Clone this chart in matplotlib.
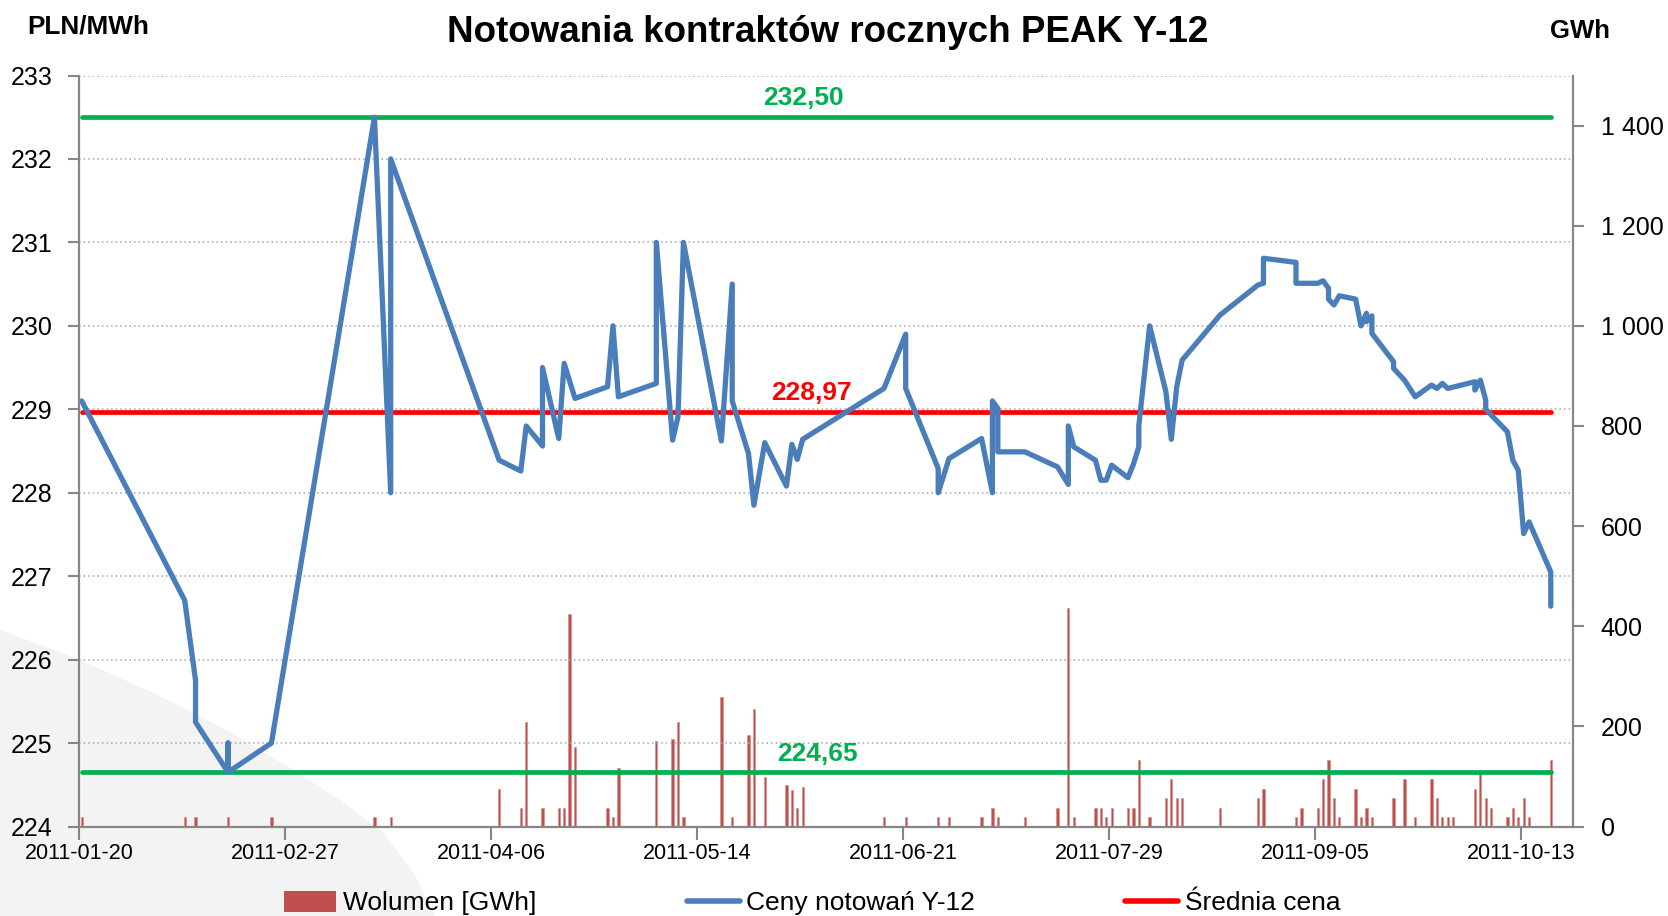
import matplotlib
matplotlib.use("Agg")
import matplotlib.pyplot as plt
from matplotlib.dates import DateFormatter
from matplotlib.lines import Line2D
from matplotlib.patches import Patch, Polygon
from matplotlib.ticker import FuncFormatter
import pandas as pd

plt.rcParams["font.family"] = ["Liberation Sans", "DejaVu Sans"]

TITLE = "Notowania kontraktów rocznych PEAK Y-12"

# daily quotes of the Y-12 peak contract (PLN/MWh); repeated dates = intraday moves
price_dates = [
    "2011-01-20", "2011-02-08", "2011-02-10", "2011-02-10", "2011-02-16", "2011-02-16",
    "2011-02-16", "2011-02-24", "2011-03-15", "2011-03-18", "2011-03-18", "2011-04-07",
    "2011-04-11", "2011-04-12", "2011-04-15", "2011-04-15", "2011-04-18", "2011-04-19",
    "2011-04-21", "2011-04-27", "2011-04-28", "2011-04-29", "2011-05-06", "2011-05-06",
    "2011-05-09", "2011-05-10", "2011-05-11", "2011-05-18", "2011-05-20", "2011-05-20",
    "2011-05-23", "2011-05-24", "2011-05-26", "2011-05-30", "2011-05-31", "2011-06-01",
    "2011-06-02", "2011-06-17", "2011-06-21", "2011-06-21", "2011-06-27", "2011-06-27",
    "2011-06-29", "2011-07-05", "2011-07-07", "2011-07-07", "2011-07-08", "2011-07-08",
    "2011-07-13", "2011-07-19", "2011-07-21", "2011-07-21", "2011-07-22", "2011-07-26",
    "2011-07-27", "2011-07-28", "2011-07-29", "2011-08-01", "2011-08-02", "2011-08-03",
    "2011-08-03", "2011-08-05", "2011-08-08", "2011-08-09", "2011-08-10", "2011-08-11",
    "2011-08-18", "2011-08-25", "2011-08-26", "2011-08-26", "2011-09-01", "2011-09-01",
    "2011-09-05", "2011-09-06", "2011-09-07", "2011-09-07", "2011-09-08", "2011-09-09",
    "2011-09-12", "2011-09-13", "2011-09-14", "2011-09-14", "2011-09-15", "2011-09-15",
    "2011-09-19", "2011-09-19", "2011-09-21", "2011-09-23", "2011-09-26", "2011-09-27",
    "2011-09-28", "2011-09-29", "2011-10-04", "2011-10-04", "2011-10-05", "2011-10-06",
    "2011-10-06", "2011-10-10", "2011-10-11", "2011-10-12", "2011-10-13", "2011-10-14",
    "2011-10-18", "2011-10-18",
]
price_values = [
    229.10, 226.71, 225.75, 225.25, 224.65, 225.00,
    224.65, 225.00, 232.50, 228.00, 232.00, 228.39,
    228.26, 228.80, 228.56, 229.50, 228.65, 229.55,
    229.13, 229.27, 230.00, 229.15, 229.31, 231.00,
    228.63, 228.91, 231.00, 228.62, 230.50, 229.10,
    228.47, 227.85, 228.60, 228.08, 228.58, 228.40,
    228.64, 229.25, 229.90, 229.25, 228.29, 228.00,
    228.41, 228.65, 228.00, 229.10, 229.01, 228.49,
    228.49, 228.31, 228.10, 228.80, 228.55, 228.39,
    228.15, 228.15, 228.33, 228.18, 228.34, 228.55,
    228.80, 230.00, 229.21, 228.64, 229.27, 229.59,
    230.13, 230.49, 230.51, 230.81, 230.76, 230.51,
    230.51, 230.54, 230.45, 230.32, 230.25, 230.36,
    230.32, 230.00, 230.15, 230.05, 230.12, 229.91,
    229.57, 229.49, 229.35, 229.15, 229.29, 229.25,
    229.31, 229.25, 229.33, 229.23, 229.35, 229.11,
    229.00, 228.73, 228.39, 228.27, 227.51, 227.65,
    227.05, 226.64,
]

# traded volume (GWh)
volume_dates = [
    "2011-01-20", "2011-02-08", "2011-02-10", "2011-02-16", "2011-02-24", "2011-03-15",
    "2011-03-18", "2011-04-07", "2011-04-11", "2011-04-12", "2011-04-15", "2011-04-18",
    "2011-04-19", "2011-04-20", "2011-04-21", "2011-04-27", "2011-04-28", "2011-04-29",
    "2011-05-06", "2011-05-09", "2011-05-10", "2011-05-11", "2011-05-18", "2011-05-20",
    "2011-05-23", "2011-05-24", "2011-05-26", "2011-05-30", "2011-05-31", "2011-06-01",
    "2011-06-02", "2011-06-17", "2011-06-21", "2011-06-27", "2011-06-29", "2011-07-05",
    "2011-07-07", "2011-07-08", "2011-07-13", "2011-07-19", "2011-07-21", "2011-07-22",
    "2011-07-26", "2011-07-27", "2011-07-28", "2011-07-29", "2011-08-01", "2011-08-02",
    "2011-08-03", "2011-08-05", "2011-08-08", "2011-08-09", "2011-08-10", "2011-08-11",
    "2011-08-18", "2011-08-25", "2011-08-26", "2011-09-01", "2011-09-02", "2011-09-05",
    "2011-09-06", "2011-09-07", "2011-09-08", "2011-09-09", "2011-09-12", "2011-09-13",
    "2011-09-14", "2011-09-15", "2011-09-19", "2011-09-21", "2011-09-23", "2011-09-26",
    "2011-09-27", "2011-09-28", "2011-09-29", "2011-09-30", "2011-10-04", "2011-10-05",
    "2011-10-06", "2011-10-07", "2011-10-10", "2011-10-11", "2011-10-12", "2011-10-13",
    "2011-10-14", "2011-10-18",
]
volume_values = [
    19, 19, 19, 19, 19, 19,
    19, 75, 37, 208, 37, 37,
    37, 424, 158, 37, 19, 116,
    170, 174, 208, 19, 258, 19,
    182, 235, 98, 83, 72, 37,
    79, 19, 19, 19, 19, 19,
    37, 19, 19, 37, 436, 19,
    37, 37, 19, 37, 37, 37,
    132, 19, 56, 94, 56, 56,
    37, 56, 75, 19, 37, 37,
    94, 132, 56, 19, 75, 19,
    37, 19, 56, 94, 19, 94,
    56, 19, 19, 19, 75, 113,
    56, 37, 19, 37, 19, 56,
    19, 132,
]

avg_price = 228.97
max_price = 232.50
min_price = 224.65

tick_dates = ["2011-01-20", "2011-02-27", "2011-04-06", "2011-05-14",
              "2011-06-21", "2011-07-29", "2011-09-05", "2011-10-13"]

BLUE = "#4A7EBB"
RED = "#FF0000"
GREEN = "#00B050"
BAR = "#C0504D"
AXIS = "#868686"
GRID = "#A6A6A6"

W, H = 1668, 916


def fx(px):
    return px / W


def fy(py):
    return 1 - py / H


fig = plt.figure(figsize=(W / 100, H / 100), dpi=100)

# faint decorative swoosh in the lower-left corner
swoosh = [(0, 630), (80, 660), (160, 696), (230, 732), (290, 768), (340, 800),
          (383, 832), (415, 875), (435, 916), (0, 916)]
fig.add_artist(Polygon([(fx(x), fy(y)) for x, y in swoosh], closed=True,
                       transform=fig.transFigure, facecolor="#F3F3F3",
                       edgecolor="none", zorder=-1))

ax = fig.add_axes([fx(79), fy(826.5), fx(1573 - 79), (826.5 - 75.5) / H])
ax2 = ax.twinx()
ax.set_zorder(ax2.get_zorder() + 1)
ax.patch.set_visible(False)
ax2.patch.set_visible(False)

half_day = pd.Timedelta(hours=12)
px_dates = pd.to_datetime(price_dates) + half_day
vx_dates = pd.to_datetime(volume_dates) + half_day

ax2.bar(vx_dates, volume_values, width=0.42, color=BAR, edgecolor="#D68A88",
        linewidth=0.4)

span = [px_dates[0], px_dates[-1]]
ax.plot(span, [max_price] * 2, color=GREEN, lw=3.4, solid_capstyle="round")
ax.plot(span, [min_price] * 2, color=GREEN, lw=3.4, solid_capstyle="round")
ax.plot(span, [avg_price] * 2, color=RED, lw=3.4, solid_capstyle="round")
ax.plot(px_dates, price_values, color=BLUE, lw=3.8,
        solid_joinstyle="round", solid_capstyle="round")


def pl_num(v):
    return f"{v:.2f}".replace(".", ",")


label_tf = ax.get_yaxis_transform()
for xfrac, val, col in [(0.4846, max_price, GREEN), (0.4901, avg_price, RED),
                        (0.4946, min_price, GREEN)]:
    ax.annotate(pl_num(val), xy=(xfrac, val), xycoords=label_tf,
                xytext=(0, 13.5), textcoords="offset points",
                ha="center", va="center", color=col, fontsize=19,
                fontweight="bold")

start = pd.Timestamp(tick_dates[0])
ax.set_xlim(start, start + pd.Timedelta(days=275.6))
ax.set_xticks(pd.to_datetime(tick_dates))
ax.xaxis.set_major_formatter(DateFormatter("%Y-%m-%d"))

ax.set_ylim(224, 233)
ax.set_yticks(range(224, 234))
ax2.set_ylim(0, 1500)
ax2.set_yticks(range(0, 1401, 200))
ax2.yaxis.set_major_formatter(FuncFormatter(lambda v, _: f"{int(v):,}".replace(",", " ")))

ax.yaxis.grid(True, linestyle=(0, (1, 2)), color=GRID, lw=1.1)

for name in ["top", "right"]:
    ax.spines[name].set_visible(False)
for name in ["top", "left", "bottom"]:
    ax2.spines[name].set_visible(False)
for sp in [ax.spines["left"], ax.spines["bottom"], ax2.spines["right"]]:
    sp.set_color(AXIS)
    sp.set_linewidth(1.6)

ax.tick_params(axis="y", direction="out", length=8, width=1.5, color=AXIS,
               labelsize=18, pad=11)
ax.tick_params(axis="x", direction="out", length=9, width=1.5, color=AXIS,
               labelsize=15.5, pad=3)
ax2.tick_params(axis="y", direction="out", length=8, width=1.5, color=AXIS,
                labelsize=18, pad=12)

fig.text(fx(828), fy(32), TITLE, ha="center", va="center", fontsize=26.5,
         fontweight="bold")
fig.text(fx(27), fy(26), "PLN/MWh", ha="left", va="center", fontsize=18.8,
         fontweight="bold")
fig.text(fx(1550), fy(31), "GWh", ha="left", va="center", fontsize=18.5,
         fontweight="bold")

handles = [
    Patch(facecolor=BAR, edgecolor="none"),
    Line2D([], [], color=BLUE, lw=4, solid_capstyle="round"),
    Line2D([], [], color=RED, lw=4, solid_capstyle="round"),
]
labels = ["Wolumen [GWh]", "Ceny notowań Y-12", "Średnia cena"]
fig.legend(handles, labels, loc="center", bbox_to_anchor=(fx(812), fy(903)),
           ncol=3, frameon=False, fontsize=19, handlelength=2.0,
           handleheight=0.85, handletextpad=0.25, columnspacing=5.7)

fig.savefig("out.png", dpi=100)
